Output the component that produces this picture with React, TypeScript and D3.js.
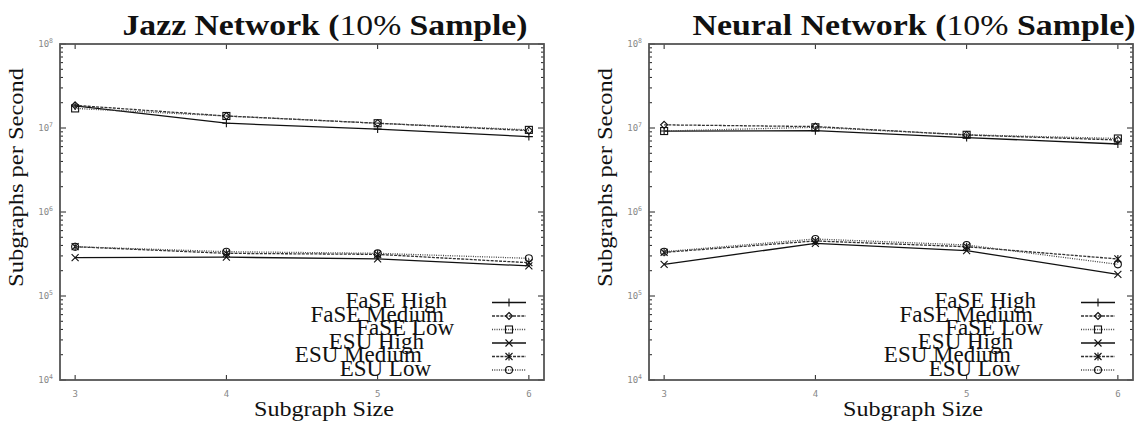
import * as d3 from "d3";

// subgraph sizes on the x axis
const sizes = [3, 4, 5, 6];
const seriesNames = ["FaSE High", "FaSE Medium", "FaSE Low", "ESU High", "ESU Medium", "ESU Low"];
const yTickExp = [4, 5, 6, 7, 8];

// Jazz network, subgraphs per second
const jazzFaseHigh = [1.83e7, 1.14e7, 9.7e6, 7.9e6];
const jazzFaseMedium = [1.86e7, 1.39e7, 1.14e7, 9.3e6];
const jazzFaseLow = [1.71e7, 1.39e7, 1.14e7, 9.5e6];
const jazzEsuHigh = [2.86e5, 2.9e5, 2.76e5, 2.28e5];
const jazzEsuMedium = [3.86e5, 3.22e5, 3.13e5, 2.49e5];
const jazzEsuLow = [3.86e5, 3.37e5, 3.22e5, 2.81e5];

// Neural network, subgraphs per second
const neuralFaseHigh = [9.2e6, 9.3e6, 7.7e6, 6.45e6];
const neuralFaseMedium = [1.09e7, 1.04e7, 8.26e6, 7.2e6];
const neuralFaseLow = [9.2e6, 1.02e7, 8.3e6, 7.5e6];
const neuralEsuHigh = [2.38e5, 4.24e5, 3.47e5, 1.81e5];
const neuralEsuMedium = [3.31e5, 4.52e5, 3.86e5, 2.76e5];
const neuralEsuLow = [3.37e5, 4.77e5, 4.05e5, 2.38e5];

const W = 1138, H = 421;
const top = 44, bottom = 380;
const plotW = 484;

// line style per series: solid / dashed / dotted
const styles = [
  { dash: null, color: "#111", marker: "plus" },
  { dash: "3,1.2", color: "#333", marker: "diamond" },
  { dash: "1,1.3", color: "#444", marker: "square" },
  { dash: null, color: "#111", marker: "cross" },
  { dash: "3,1.2", color: "#333", marker: "star" },
  { dash: "1,1.3", color: "#444", marker: "circle" },
];
// legend label right edges, relative to the plot's left side
const legendRight = [387, 384, 394, 364, 362, 371];

function Marker({ kind, x, y, color }) {
  const s = 3.5;
  const common = { fill: "none", stroke: color, strokeWidth: 1.1 };
  if (kind === "circle") return <circle cx={x} cy={y} r={s} {...common} />;
  if (kind === "square") return <rect x={x - s} y={y - s} width={2 * s} height={2 * s} {...common} />;
  let d = "";
  if (kind === "plus") d = `M${x - 4},${y}H${x + 4}M${x},${y - 4}V${y + 4}`;
  if (kind === "diamond") d = `M${x},${y - s}L${x + s},${y}L${x},${y + s}L${x - s},${y}Z`;
  if (kind === "cross") d = `M${x - s},${y - s}L${x + s},${y + s}M${x - s},${y + s}L${x + s},${y - s}`;
  if (kind === "star") d = `M${x - s},${y - s}L${x + s},${y + s}M${x - s},${y + s}L${x + s},${y - s}M${x},${y - 4}V${y + 4}`;
  return <path d={d} {...common} />;
}

function Panel({ left, title, titleWidth, series }) {
  const x = d3.scaleLinear().domain([2.9, 6.1]).range([left, left + plotW]);
  const y = d3.scaleLog().domain([1e4, 1e8]).range([bottom, top]);
  const line = d3.line<number>().x((d, i) => x(sizes[i])).y((d) => y(d));
  const cx = left + plotW / 2 + 23;

  const minor: number[] = [];
  for (let e = 4; e < 8; e++) for (let m = 2; m <= 9; m++) minor.push(m * Math.pow(10, e));
  const right = left + plotW;

  return (
    <g>
      <text x={cx} y={35} textAnchor="middle" fontFamily="Liberation Serif, serif" fontWeight="bold"
        fontSize={30} textLength={titleWidth} lengthAdjust="spacingAndGlyphs" fill="#111">
        {title}<tspan fontWeight="normal">10%</tspan> Sample)
      </text>

      {/* ticks */}
      {sizes.map((s) => (
        <g key={"x" + s}>
          <line x1={x(s)} x2={x(s)} y1={bottom} y2={bottom - 5} stroke="#222" />
          <line x1={x(s)} x2={x(s)} y1={top} y2={top + 5} stroke="#222" />
          <text x={x(s)} y={397} textAnchor="middle" fontFamily="DejaVu Sans Mono, monospace" fontSize={9} fill="#888">{s}</text>
        </g>
      ))}
      {minor.map((v, i) => (
        <g key={"m" + i}>
          <line x1={left} x2={left + 3} y1={y(v)} y2={y(v)} stroke="#222" />
          <line x1={right} x2={right - 3} y1={y(v)} y2={y(v)} stroke="#222" />
        </g>
      ))}
      {yTickExp.map((e) => (
        <g key={"y" + e}>
          <line x1={left} x2={left + 6} y1={y(Math.pow(10, e))} y2={y(Math.pow(10, e))} stroke="#222" />
          <line x1={right} x2={right - 6} y1={y(Math.pow(10, e))} y2={y(Math.pow(10, e))} stroke="#222" />
          <text x={left - 7} y={y(Math.pow(10, e)) + 3} textAnchor="end" fontFamily="DejaVu Sans Mono, monospace" fontSize={9} fill="#888">
            10<tspan dy={-4} fontSize={6.5}>{e}</tspan>
          </text>
        </g>
      ))}

      <rect x={left} y={top} width={plotW} height={bottom - top} fill="none" stroke="#555" strokeWidth={1.8} />

      {series.map((vals, si) => (
        <g key={"s" + si}>
          <path d={line(vals) || ""} fill="none" stroke={styles[si].color} strokeWidth={1.3}
            strokeDasharray={styles[si].dash || undefined} />
          {vals.map((v, i) => (
            <Marker key={i} kind={styles[si].marker} x={x(sizes[i])} y={y(v)} color="#111" />
          ))}
        </g>
      ))}

      {/* legend */}
      {seriesNames.map((n, i) => {
        const ly = 302.5 + i * 13.5;
        return (
          <g key={"l" + i}>
            <text x={left + legendRight[i]} y={ly + 5.5} textAnchor="end" fontFamily="Liberation Serif, serif" fontSize={23} fill="#111">{n}</text>
            <line x1={left + 432} x2={left + 466} y1={ly} y2={ly} stroke={styles[i].color} strokeWidth={1.3}
              strokeDasharray={styles[i].dash || undefined} />
            <Marker kind={styles[i].marker} x={left + 449} y={ly} color="#111" />
          </g>
        );
      })}

      <text transform={`translate(${left - 37},177.5) rotate(-90)`} textAnchor="middle" fontFamily="Liberation Serif, serif"
        fontSize={20} textLength={219} lengthAdjust="spacingAndGlyphs" fill="#111">Subgraphs per Second</text>
      <text x={cx - 1} y={416} textAnchor="middle" fontFamily="Liberation Serif, serif" fontSize={20}
        textLength={140} lengthAdjust="spacingAndGlyphs" fill="#111">Subgraph Size</text>
    </g>
  );
}

export default function App() {
  return (
    <svg width={W} height={H} style={{ position: "absolute", left: 0, top: 0, background: "#fff" }}>
      <Panel left={60} title="Jazz Network (" titleWidth={405}
        series={[jazzFaseHigh, jazzFaseMedium, jazzFaseLow, jazzEsuHigh, jazzEsuMedium, jazzEsuLow]} />
      <Panel left={649} title="Neural Network (" titleWidth={443}
        series={[neuralFaseHigh, neuralFaseMedium, neuralFaseLow, neuralEsuHigh, neuralEsuMedium, neuralEsuLow]} />
    </svg>
  );
}
